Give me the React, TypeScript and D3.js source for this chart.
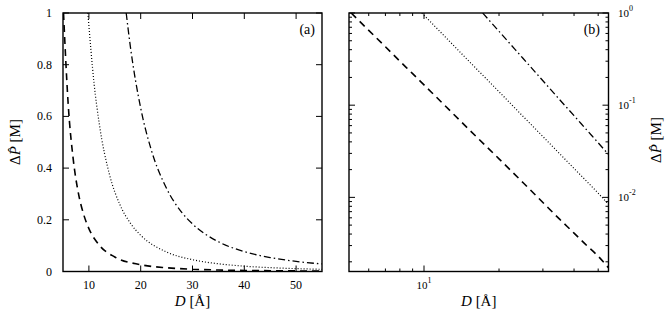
import * as d3 from 'd3';
import React from 'react';

// values (D in Å, ΔP in M)
const dashedD = [5.1, 6, 7, 8, 9, 10, 12, 15, 20, 25, 30, 35, 40, 45, 50, 55];
const dashedP = [1, 0.648, 0.43, 0.3, 0.22, 0.166, 0.102, 0.056, 0.0262, 0.0144, 0.0088, 0.0058, 0.0041, 0.003, 0.0023, 0.00172];

const dottedD = [9.8, 11, 12, 14, 16, 18, 20, 25, 30, 35, 40, 45, 50, 55];
const dottedP = [1, 0.727, 0.572, 0.373, 0.258, 0.187, 0.14, 0.0754, 0.0457, 0.0298, 0.0206, 0.0149, 0.0111, 0.0084];

const dashDotD = [17.2, 18, 20, 22, 25, 28, 30, 35, 40, 45, 50, 55];
const dashDotP = [1, 0.871, 0.632, 0.473, 0.321, 0.227, 0.184, 0.115, 0.077, 0.0538, 0.0391, 0.0292];

const linXTicks = [10, 20, 30, 40, 50];
const linYTicks = [0, 0.2, 0.4, 0.6, 0.8, 1];
const linYLabels = ['0', '0.2', '0.4', '0.6', '0.8', '1'];
const logYDecades = [1, 0.1, 0.01];
const logYExp = ['0', '-1', '-2'];
const logXMinor = [6, 7, 8, 9, 20, 30, 40, 50];

const series = [
  { d: dashedD, p: dashedP, dash: '7,5', width: 1.6 },
  { d: dottedD, p: dottedP, dash: '1,2', width: 1.2 },
  { d: dashDotD, p: dashDotP, dash: '7,3,1.5,3', width: 1.3 },
];

const font = "'Liberation Serif', 'Times New Roman', serif";
const top = 13;
const bottom = 271.5;

const YTitle = ({ x, y }: { x: number; y: number }) => (
  <text transform={`translate(${x},${y}) rotate(-90)`} textAnchor="middle" fontSize={15} style={{ fontFamily: font }}>
    Δ<tspan fontStyle="italic">P{'\u0302'}</tspan> [M]
  </text>
);

const XTitle = ({ x }: { x: number }) => (
  <text x={x} y={306} textAnchor="middle" fontSize={15} style={{ fontFamily: font }}>
    <tspan fontStyle="italic">D</tspan> [Å]
  </text>
);

export default function App() {
  const xA = d3.scaleLinear().domain([5, 55]).range([63, 322]);
  const yA = d3.scaleLinear().domain([0, 1]).range([bottom, top]);
  const xB = d3.scaleLog().domain([5, 55]).range([349, 608.5]);
  const yB = d3.scaleLog().domain([0.00157, 1]).range([bottom, top]);

  const lineA = (s: typeof series[0]) =>
    d3.line<number>().x((_, i) => xA(s.d[i])).y((v) => yA(v)).curve(d3.curveMonotoneX)(s.p) || '';
  const lineB = (s: typeof series[0]) =>
    d3.line<number>().x((_, i) => xB(s.d[i])).y((v) => yB(v)).curve(d3.curveMonotoneX)(s.p) || '';

  const logYMinor: number[] = [];
  [0.001, 0.01, 0.1].forEach((dec) => {
    for (let m = 2; m <= 9; m++) {
      const v = m * dec;
      if (v >= 0.00157 && v < 1) logYMinor.push(v);
    }
  });

  const [a0, a1] = xA.range();
  const [b0, b1] = xB.range();
  const major = 6;
  const minor = 3;

  return (
    <svg width={665} height={309} style={{ position: 'absolute', left: 0, top: 0 }}>
      <defs>
        <clipPath id="clipA"><rect x={a0} y={top} width={a1 - a0} height={bottom - top} /></clipPath>
        <clipPath id="clipB"><rect x={b0} y={top} width={b1 - b0} height={bottom - top} /></clipPath>
      </defs>
      <rect width={665} height={309} fill="#fff" />

      {/* panel (a) */}
      <g stroke="#000" strokeWidth={1}>
        {linXTicks.map((t) => (
          <g key={t}>
            <line x1={xA(t)} x2={xA(t)} y1={bottom} y2={bottom - major} />
            <line x1={xA(t)} x2={xA(t)} y1={top} y2={top + major} />
          </g>
        ))}
        {linYTicks.map((t) => (
          <g key={t}>
            <line x1={a0} x2={a0 + major} y1={yA(t)} y2={yA(t)} />
            <line x1={a1} x2={a1 - major} y1={yA(t)} y2={yA(t)} />
          </g>
        ))}
      </g>
      <g clipPath="url(#clipA)" fill="none" stroke="#000">
        {series.map((s, i) => (
          <path key={i} d={lineA(s)} strokeDasharray={s.dash} strokeWidth={s.width} />
        ))}
      </g>
      <rect x={a0} y={top} width={a1 - a0} height={bottom - top} fill="none" stroke="#000" strokeWidth={1.4} />
      <g style={{ fontFamily: font }} fontSize={12}>
        {linXTicks.map((t) => (
          <text key={t} x={xA(t)} y={289} textAnchor="middle">{t}</text>
        ))}
        {linYTicks.map((t, i) => (
          <text key={t} x={52} y={yA(t) + 4} textAnchor="end">{linYLabels[i]}</text>
        ))}
      </g>
      <text x={315} y={34} textAnchor="end" fontSize={14} style={{ fontFamily: font }}>(a)</text>
      <XTitle x={(a0 + a1) / 2} />
      <YTitle x={20} y={142} />

      {/* panel (b) */}
      <g stroke="#000" strokeWidth={1}>
        {logXMinor.map((t) => (
          <g key={t}>
            <line x1={xB(t)} x2={xB(t)} y1={bottom} y2={bottom - minor} />
            <line x1={xB(t)} x2={xB(t)} y1={top} y2={top + minor} />
          </g>
        ))}
        <line x1={xB(10)} x2={xB(10)} y1={bottom} y2={bottom - major} />
        <line x1={xB(10)} x2={xB(10)} y1={top} y2={top + major} />
        {logYMinor.map((t) => (
          <g key={t}>
            <line x1={b0} x2={b0 + minor} y1={yB(t)} y2={yB(t)} />
            <line x1={b1} x2={b1 - minor} y1={yB(t)} y2={yB(t)} />
          </g>
        ))}
        {logYDecades.map((t) => (
          <g key={t}>
            <line x1={b0} x2={b0 + major} y1={yB(t)} y2={yB(t)} />
            <line x1={b1} x2={b1 - major} y1={yB(t)} y2={yB(t)} />
          </g>
        ))}
      </g>
      <g clipPath="url(#clipB)" fill="none" stroke="#000">
        {series.map((s, i) => (
          <path key={i} d={lineB(s)} strokeDasharray={s.dash} strokeWidth={s.width} />
        ))}
      </g>
      <rect x={b0} y={top} width={b1 - b0} height={bottom - top} fill="none" stroke="#000" strokeWidth={1.4} />
      <g style={{ fontFamily: font }} fontSize={11}>
        <text x={xB(10)} y={289} textAnchor="middle">
          10<tspan fontSize={8} dy={-6}>1</tspan>
        </text>
        {logYDecades.map((t, i) => (
          <text key={t} x={618} y={yB(t) + 4}>
            10<tspan fontSize={8} dy={-6}>{logYExp[i]}</tspan>
          </text>
        ))}
      </g>
      <text x={600} y={34} textAnchor="end" fontSize={14} style={{ fontFamily: font }}>(b)</text>
      <XTitle x={(b0 + b1) / 2} />
      <YTitle x={661} y={140} />
    </svg>
  );
}
